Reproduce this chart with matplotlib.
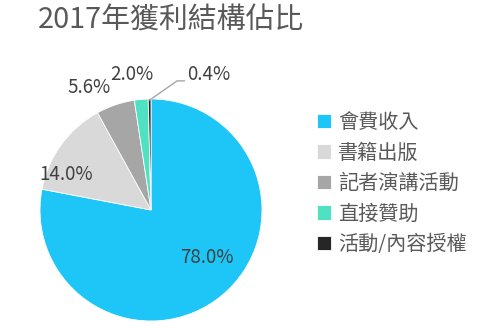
import matplotlib
matplotlib.use("Agg")
import matplotlib.pyplot as plt
import numpy as np

plt.rcParams['font.family'] = ['Noto Sans CJK TC', 'DejaVu Sans']

title = "2017年獲利結構佔比"
categories = ["會費收入", "書籍出版", "記者演講活動", "直接贊助", "活動/內容授權"]
values = [78.0, 14.0, 5.6, 2.0, 0.4]
colors = ["#1EC6F8", "#D9D9D9", "#A6A6A6", "#4EE2C2", "#262626"]

fig = plt.figure(figsize=(5.0, 3.29), dpi=100)
W, H = 500, 329
cx, cy, r = 151, 210, 111
ax = fig.add_axes([(cx - r) / W, (H - cy - r) / H, 2 * r / W, 2 * r / H])

wedges, _ = ax.pie(values, colors=colors, startangle=90, counterclock=False,
                   radius=1.0, wedgeprops=dict(linewidth=0.6, edgecolor="white"))
ax.set_xlim(-1, 1)
ax.set_ylim(-1, 1)
ax.set_aspect("equal")
ax.axis("off")

# label placement (in units of radius): (radius, angle offset in degrees)
label_pos = [(0.66, 10), (0.83, 13), (1.24, 8), (1.23, 3), None]
txt_color = "#404040"
for i, (w, v) in enumerate(zip(wedges, values)):
    mid = (w.theta1 + w.theta2) / 2
    lab = f"{v:.1f}%"
    if label_pos[i] is not None:
        rr, off = label_pos[i]
        a = np.deg2rad(mid + off)
        ax.text(rr * np.cos(a), rr * np.sin(a), lab, ha="center", va="center",
                fontsize=13.5, color=txt_color, clip_on=False)
    else:
        a = np.deg2rad(mid)
        x0, y0 = np.cos(a), np.sin(a)
        ax.annotate(lab, xy=(x0, y0 - 0.01), xytext=(x0 + 0.34, y0 + 0.22),
                    fontsize=13.5, color=txt_color, ha="left", va="center",
                    arrowprops=dict(arrowstyle="-", color="#A6A6A6", lw=1.0,
                                    connectionstyle="angle,angleA=0,angleB=35,rad=0",
                                    shrinkA=0, shrinkB=0, relpos=(0, 0.2)),
                    annotation_clip=False)

fig.text(38 / W, 1 - 21 / H, title, fontsize=20.8, color="#595959",
         ha="left", va="center")

leg = fig.legend(wedges, categories, loc="upper left",
                 bbox_to_anchor=(299 / W, 1 - 94 / H), frameon=False,
                 fontsize=14.5, labelcolor="#595959", handlelength=0.7,
                 handleheight=0.7, handletextpad=0.35, labelspacing=0.47)

fig.savefig("out.png", dpi=100)
